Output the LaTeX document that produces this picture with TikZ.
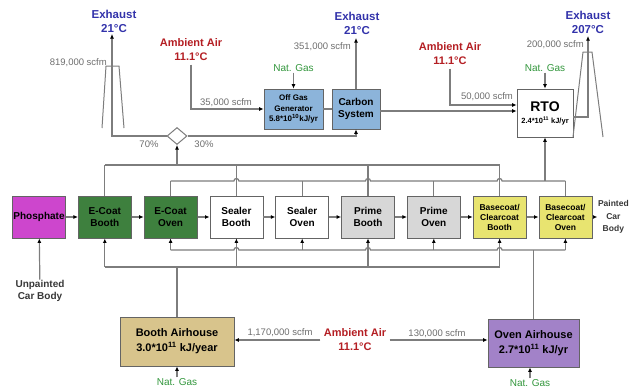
\documentclass[tikz,border=0pt]{standalone}
\usepackage{fontspec}
\setmainfont{Liberation Sans}
\usetikzlibrary{shapes.geometric, arrows.meta, positioning, calc}

\definecolor{linecol}{RGB}{125,125,125}
\definecolor{edgecol}{RGB}{100,100,100}
\definecolor{phoscol}{RGB}{205,70,205}
\definecolor{ecoatcol}{RGB}{62,128,62}
\definecolor{primecol}{RGB}{215,215,215}
\definecolor{basecol}{RGB}{232,228,112}
\definecolor{gascol}{RGB}{140,180,218}
\definecolor{bahcol}{RGB}{216,196,140}
\definecolor{oahcol}{RGB}{162,130,200}
\definecolor{exblue}{RGB}{50,50,170}
\definecolor{ambred}{RGB}{180,30,35}
\definecolor{natgreen}{RGB}{50,150,60}
\definecolor{flowgray}{RGB}{110,110,110}
\definecolor{bodytext}{RGB}{55,55,55}

\begin{document}
\begin{tikzpicture}[x=1pt, y=-1pt,
    proc/.style={rectangle, draw=edgecol, line width=0.8pt,
                 minimum width=53pt, minimum height=42pt, inner sep=0.5pt,
                 align=center, font=\fontsize{10}{12}\selectfont\bfseries},
    bcfont/.style={font=\fontsize{8.5}{10}\selectfont\bfseries},
    plant/.style={rectangle, draw=edgecol, line width=0.8pt,
                  align=center, inner sep=1pt},
    exh/.style={align=center, text=exblue, font=\fontsize{11.5}{14}\selectfont\bfseries},
    amb/.style={align=center, text=ambred, font=\fontsize{11}{14}\selectfont\bfseries},
    gas/.style={text=natgreen, font=\fontsize{10}{12}\selectfont, inner sep=1pt},
    flow/.style={text=flowgray, font=\fontsize{9.5}{11}\selectfont, inner sep=1pt},
    carbody/.style={align=center, text=bodytext, font=\fontsize{8.5}{12.5}\selectfont\bfseries, inner sep=0.5pt},
    pipe/.style={draw=linecol, line width=1.2pt},
    arr/.style={pipe, -{Latex[length=4.5pt, width=4pt, color=black]}},
    node distance=12pt
]
\useasboundingbox (0,0) rectangle (629,391);

% process line
\node[proc, fill=phoscol] (phos) at (39,217) {Phosphate};
\node[proc, fill=ecoatcol, right=of phos] (ecb) {E-Coat\\Booth};
\node[proc, fill=ecoatcol, right=of ecb]  (eco) {E-Coat\\Oven};
\node[proc, fill=white,    right=of eco]  (sb)  {Sealer\\Booth};
\node[proc, fill=white,    right=of sb]   (so)  {Sealer\\Oven};
\node[proc, fill=primecol, right=of so]   (pb)  {Prime\\Booth};
\node[proc, fill=primecol, right=of pb]   (po)  {Prime\\Oven};
\node[proc, bcfont, fill=basecol, right=of po]  (bcb) {Basecoat/\\Clearcoat\\Booth};
\node[proc, bcfont, fill=basecol, right=of bcb] (bco) {Basecoat/\\Clearcoat\\Oven};
\node[carbody, right=5pt of bco] (paint) {Painted\\Car\\Body};
\node[carbody, font=\fontsize{10}{12}\selectfont\bfseries] (unp) at (40,291) {Unpainted\\Car Body};

\foreach \a/\b in {phos/ecb, ecb/eco, eco/sb, sb/so, so/pb, pb/po, po/bcb, bcb/bco, bco/paint}
    \draw[arr] (\a) -- (\b);
\draw[arr] (unp) -- (phos);

% exhaust treatment
\node[plant, fill=gascol, minimum width=59pt, minimum height=40pt,
      font=\fontsize{8}{10.5}\selectfont\bfseries] (offgas) at (293.5,109)
      {Off Gas\\Generator\\5.8*10\textsuperscript{10}kJ/yr};
\node[plant, fill=gascol, minimum width=48pt, minimum height=40pt,
      font=\fontsize{10}{12}\selectfont\bfseries] (carbon) at (356,109) {Carbon\\System};
\node[plant, fill=white, minimum width=56pt, minimum height=48pt, font=\bfseries] (rto) at (545,113)
      {{\fontsize{14}{15}\selectfont RTO}\\{\fontsize{7.5}{9}\selectfont 2.4*10\textsuperscript{11} kJ/yr}};
\node[diamond, draw=linecol, line width=1pt, fill=white, minimum width=20pt,
      minimum height=17pt, inner sep=0pt] (split) at (177,136) {};

\node[exh] (ex1) at (114,21) {Exhaust\\21°C};
\node[exh] (ex2) at (357,23) {Exhaust\\21°C};
\node[exh] (ex3) at (588,22) {Exhaust\\207°C};
\node[amb] (amb1) at (191,50) {Ambient Air\\11.1°C};
\node[amb] (amb2) at (450,54) {Ambient Air\\11.1°C};
\node[gas] (gas1) at (293.5,68) {Nat. Gas};
\node[gas] (gas2) at (545,68) {Nat. Gas};

\coordinate (stk1) at (112,34);
\coordinate (stk2) at (356,38);
\coordinate (stk3) at (588,36);

% stacks
\draw[draw=linecol, line width=1pt] (102,128) -- (106,66) -- (119,66) -- (124,128);
\draw[draw=linecol, line width=1pt] (573,137) -- (583,52) -- (592,52) -- (603,137);

\draw[arr] (split.west) -| (stk1);
\draw[arr] (split.east) -| (carbon.south);
\draw[arr] (amb1.south) |- (offgas.west);
\draw[arr] (gas1) -- (offgas.north);
\draw[pipe] (offgas.east) -- (carbon.west);
\draw[arr] (carbon.north) -- (stk2);
\draw[arr] ($(carbon.east)+(0,2)$) -- ($(carbon.east -| rto.west)+(0,2)$);
\draw[arr] (amb2.south) |- ($(rto.west)+(0,-8)$);
\draw[arr] (gas2) -- (rto.north);
\draw[arr] ($(rto.east)+(0,4)$) -| (stk3);

\node[flow, anchor=east] at (108,63) {819,000 scfm};
\node[flow, anchor=east] at (352,47) {351,000 scfm};
\node[flow, anchor=east] at (585,45) {200,000 scfm};
\node[flow] at (226,103) {35,000 scfm};
\node[flow] at (487,97) {50,000 scfm};
\node[flow] at (149,144) {70\%};
\node[flow] at (204,144) {30\%};

% collection headers above the line
\coordinate (busB) at (0,165);
\coordinate (busO) at (0,181);
\draw[pipe] (ecb.north |- busB) -- (bcb.north |- busB);
\foreach \n in {ecb, sb, pb, bcb}
    \draw[pipe] (\n.north) -- (\n.north |- busB);
\draw[pipe] (eco.north |- busO)
    \foreach \n in {sb, pb, bcb} {
        -- ($(\n.north |- busO)+(-2.5,0)$) arc[start angle=180, end angle=0, radius=2.5pt]
    } -- (bco.north |- busO);
\foreach \n in {eco, so, po, bco}
    \draw[pipe] (\n.north) -- (\n.north |- busO);
\draw[arr] (split.south |- busB) -- (split.south);
\draw[arr] (rto.south |- busO) -- (rto.south);

% supply headers below the line
\node[plant, fill=bahcol, minimum width=114pt, minimum height=49pt,
      font=\fontsize{11}{15}\selectfont\bfseries] (bah) at (177,341.5)
      {Booth Airhouse\\3.0*10\textsuperscript{11} kJ/year};
\node[plant, fill=oahcol, minimum width=91pt, minimum height=48pt,
      font=\fontsize{11}{15}\selectfont\bfseries] (oah) at (533.5,343)
      {Oven Airhouse\\2.7*10\textsuperscript{11} kJ/yr};
\node[amb] (amb3) at (355,340) {Ambient Air\\11.1°C};
\node[gas] (gas3) at (177,382) {Nat. Gas};
\node[gas] (gas4) at (530,383) {Nat. Gas};
\node[flow] at (280,333) {1,170,000 scfm};
\node[flow] at (437,334) {130,000 scfm};

\draw[arr] (amb3.west) -- (amb3.west -| bah.east);
\draw[arr] (amb3.east) -- (amb3.east -| oah.west);
\draw[arr] (gas3) -- (bah.south);
\draw[arr] (gas4.north) -- (gas4.north |- oah.south);

\coordinate (supO) at (0,250);
\coordinate (supB) at (0,267);
\draw[pipe] (bah.north) -- (bah.north |- supB);
\draw[pipe] (oah.north) -- (oah.north |- supO);
\draw[pipe] (ecb.south |- supB) -- (bcb.south |- supB);
\foreach \n in {ecb, sb, pb, bcb}
    \draw[arr] (\n.south |- supB) -- (\n.south);
\draw[pipe] (eco.south |- supO)
    \foreach \n in {sb, pb, bcb} {
        -- ($(\n.south |- supO)+(-2.5,0)$) arc[start angle=180, end angle=0, radius=2.5pt]
    } -- (bco.south |- supO);
\foreach \n in {eco, so, po, bco}
    \draw[arr] (\n.south |- supO) -- (\n.south);
\end{tikzpicture}
\end{document}
